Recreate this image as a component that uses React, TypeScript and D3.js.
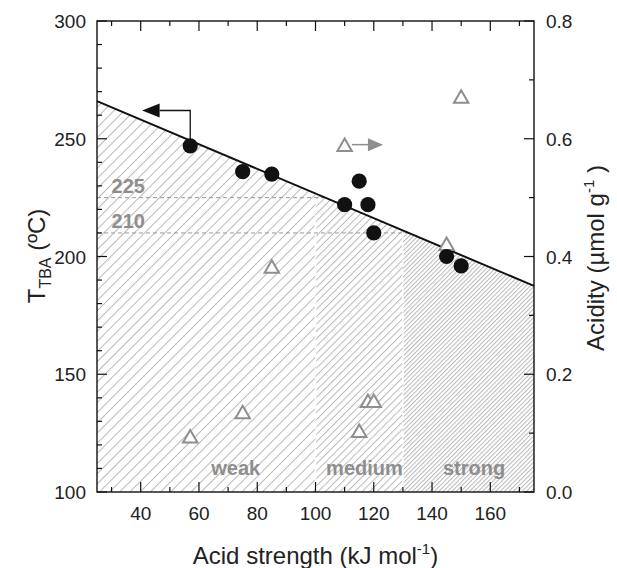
import React from "react";
import * as d3 from "d3";

// Acid strength of each sample (kJ/mol) with its T_TBA and acidity
const strength = [57, 75, 85, 110, 115, 118, 120, 145, 150];
const tTBA = [247, 236, 235, 222, 232, 222, 210, 200, 196];
const acidity = [0.093, 0.134, 0.381, 0.588, 0.102, 0.153, 0.153, 0.42, 0.67];

// Linear trend of T_TBA against acid strength (end points)
const fitX = [25, 175];
const fitY = [266, 187.5];

// Reference temperatures drawn as dashed guides
const thresholds = [225, 210];

// Acid-strength classes
const classNames = ["weak", "medium", "strong"];
const classEdges = [25, 100, 130, 175];
const classLabelX = [72.6, 116.8, 154.4];

const xTicksMajor = [40, 60, 80, 100, 120, 140, 160];
const xTicksMinor = [30, 50, 70, 90, 110, 130, 150, 170];
const yTicksMajor = [100, 150, 200, 250, 300];
const y2TicksMajor = [0, 0.2, 0.4, 0.6, 0.8];

const W = 617;
const H = 568;
const M = { left: 97, right: 534, top: 21, bottom: 492 };

const FONT = "Liberation Sans, Arial, Helvetica, sans-serif";
const GREY = "#8e8e8e";
const HATCH = "#b8b8b8";

export default function App() {
  const x = d3.scaleLinear().domain([25, 175]).range([M.left, M.right]);
  const y = d3.scaleLinear().domain([100, 300]).range([M.bottom, M.top]);
  const y2 = d3.scaleLinear().domain([0, 0.8]).range([M.bottom, M.top]);
  const fit = d3.scaleLinear().domain(fitX).range(fitY);

  const yTicksMinor = d3.range(100, 301, 10).filter((v) => v % 50 !== 0);
  const y2TicksMinor = [0.1, 0.3, 0.5, 0.7];

  const spacing = [7.2, 5.2, 3.1];

  const fitPath = d3.line<number>()
    .x((d) => x(d))
    .y((d) => y(fit(d)))(fitX);

  const tri = d3.symbol().type(d3.symbolTriangle).size(90)();

  return (
    <svg width={W} height={H} style={{ display: "block", position: "absolute", left: 0, top: 0 }} fontFamily={FONT}>
      <defs>
        {spacing.map((s, i) => (
          <pattern
            key={i}
            id={`hatch${i}`}
            patternUnits="userSpaceOnUse"
            width={s}
            height={s}
            patternTransform="rotate(45)"
          >
            <line x1={0.5} y1={0} x2={0.5} y2={s} stroke={HATCH} strokeWidth={1} />
          </pattern>
        ))}
      </defs>
      <rect width={W} height={H} fill="#fff" />

      {/* hatched area under the trend line, one density per class */}
      {classNames.map((c, i) => {
        const a = classEdges[i];
        const b = classEdges[i + 1];
        const pts = [
          [x(a), y(100)],
          [x(a), y(fit(a))],
          [x(b), y(fit(b))],
          [x(b), y(100)],
        ];
        return <polygon key={c} points={pts.map((p) => p.join(",")).join(" ")} fill={`url(#hatch${i})`} />;
      })}
      {/* class boundaries */}
      {classEdges.slice(1, 3).map((e) => (
        <line key={e} x1={x(e)} x2={x(e)} y1={y(100)} y2={y(fit(e))} stroke="#fff" strokeWidth={1.6} strokeDasharray="7,2" />
      ))}

      {/* threshold guides */}
      {thresholds.map((t) => (
        <line
          key={t}
          x1={x(25)}
          x2={x(fit.invert(t))}
          y1={y(t)}
          y2={y(t)}
          stroke="#9a9a9a"
          strokeWidth={1}
          strokeDasharray="4,3"
        />
      ))}
      {thresholds.map((t) => (
        <text key={`l${t}`} x={x(30)} y={y(t) - 5} fontSize={20} fontWeight="bold" fill={GREY}>
          {t}
        </text>
      ))}

      {classNames.map((c, i) => (
        <text key={c} x={x(classLabelX[i])} y={475} fontSize={20} fontWeight="bold" fill={GREY} textAnchor="middle">
          {c}
        </text>
      ))}

      <path d={fitPath ?? ""} fill="none" stroke="#111" strokeWidth={2} />

      {/* annotation arrows pointing to each axis */}
      <polyline
        points={`${x(57)},${y(247)} ${x(57)},${y(262)} ${x(46.5)},${y(262)}`}
        fill="none"
        stroke="#111"
        strokeWidth={1.3}
      />
      <polygon
        points={`${x(40.5)},${y(262)} ${x(46.5)},${y(262) - 7} ${x(46.5)},${y(262) + 7}`}
        fill="#111"
      />
      <line x1={x(112.5)} x2={x(118)} y1={y2(0.59)} y2={y2(0.59)} stroke={GREY} strokeWidth={1.5} />
      <polygon
        points={`${x(123.2)},${y2(0.59)} ${x(118)},${y2(0.59) - 6.5} ${x(118)},${y2(0.59) + 6.5}`}
        fill={GREY}
      />

      {/* acidity: open triangles */}
      {strength.map((s, i) => (
        <path
          key={`t${i}`}
          d={tri ?? ""}
          transform={`translate(${x(s)},${y2(acidity[i]) + 1})`}
          fill="#fff"
          stroke={GREY}
          strokeWidth={2}
        />
      ))}
      {/* T_TBA: filled circles */}
      {strength.map((s, i) => (
        <circle key={`c${i}`} cx={x(s)} cy={y(tTBA[i])} r={7.6} fill="#111" />
      ))}

      {/* frame and ticks */}
      <rect x={M.left} y={M.top} width={M.right - M.left} height={M.bottom - M.top} fill="none" stroke="#111" strokeWidth={1.4} />
      {xTicksMajor.map((t) => (
        <g key={`xm${t}`}>
          <line x1={x(t)} x2={x(t)} y1={M.bottom} y2={M.bottom - 10} stroke="#111" strokeWidth={1.2} />
          <line x1={x(t)} x2={x(t)} y1={M.top} y2={M.top + 10} stroke="#111" strokeWidth={1.2} />
          <text x={x(t)} y={520} fontSize={19} textAnchor="middle" fill="#222">
            {t}
          </text>
        </g>
      ))}
      {xTicksMinor.map((t) => (
        <g key={`xn${t}`}>
          <line x1={x(t)} x2={x(t)} y1={M.bottom} y2={M.bottom - 5} stroke="#111" strokeWidth={1.2} />
          <line x1={x(t)} x2={x(t)} y1={M.top} y2={M.top + 5} stroke="#111" strokeWidth={1.2} />
        </g>
      ))}
      {yTicksMajor.map((t) => (
        <g key={`ym${t}`}>
          <line x1={M.left} x2={M.left + 10} y1={y(t)} y2={y(t)} stroke="#111" strokeWidth={1.2} />
          <text x={86} y={y(t) + 7} fontSize={19} textAnchor="end" fill="#222">
            {t}
          </text>
        </g>
      ))}
      {yTicksMinor.map((t) => (
        <line key={`yn${t}`} x1={M.left} x2={M.left + 5} y1={y(t)} y2={y(t)} stroke="#111" strokeWidth={1.2} />
      ))}
      {y2TicksMajor.map((t) => (
        <g key={`y2m${t}`}>
          <line x1={M.right} x2={M.right - 10} y1={y2(t)} y2={y2(t)} stroke="#111" strokeWidth={1.2} />
          <text x={546} y={y2(t) + 7} fontSize={19} textAnchor="start" fill="#222">
            {t.toFixed(1)}
          </text>
        </g>
      ))}
      {y2TicksMinor.map((t) => (
        <line key={`y2n${t}`} x1={M.right} x2={M.right - 5} y1={y2(t)} y2={y2(t)} stroke="#111" strokeWidth={1.2} />
      ))}

      {/* axis titles */}
      <text x={(M.left + M.right) / 2} y={564} fontSize={24} textAnchor="middle" fill="#222">
        Acid strength (kJ mol<tspan fontSize={15} dy={-10}>-1</tspan>
        <tspan dy={10}>)</tspan>
      </text>
      <text transform={`translate(45,256) rotate(-90)`} fontSize={24} textAnchor="middle" fill="#222">
        T<tspan fontSize={16} dy={6}>TBA</tspan>
        <tspan dy={-6}> (ºC)</tspan>
      </text>
      <text transform={`translate(604,258) rotate(-90)`} fontSize={24} textAnchor="middle" fill="#222">
        Acidity (µmol g<tspan fontSize={15} dy={-10}>-1</tspan>
        <tspan dy={10}> )</tspan>
      </text>
    </svg>
  );
}
